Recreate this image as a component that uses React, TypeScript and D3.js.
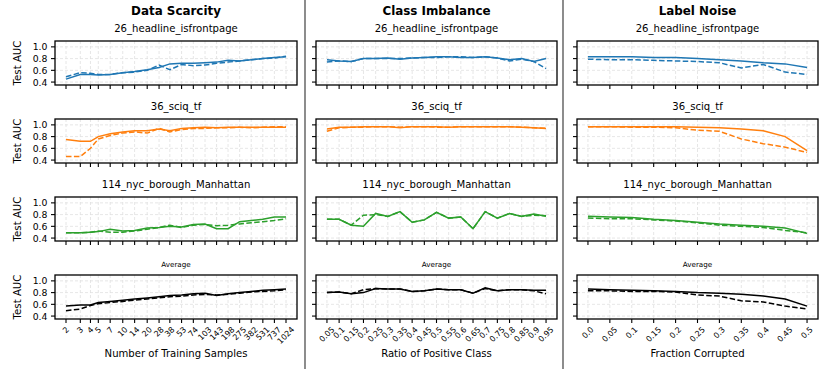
import React from 'react';
import * as d3 from 'd3';

const W = 830;
const H = 369;
const FONT = "'DejaVu Sans', sans-serif";

// x values / tick labels
const sampleSizes = [2, 3, 4, 5, 7, 10, 14, 20, 28, 38, 53, 74, 103, 143, 198, 275, 382, 531, 737, 1024];
const ratioLabels = ['0.05', '0.1', '0.15', '0.2', '0.25', '0.3', '0.35', '0.4', '0.45', '0.5',
  '0.55', '0.6', '0.65', '0.7', '0.75', '0.8', '0.85', '0.9', '0.95'];
const fractionLabels = ['0.0', '0.05', '0.1', '0.15', '0.2', '0.25', '0.3', '0.35', '0.4', '0.45', '0.5'];
const ratios = ratioLabels.map(Number);
const fractions = fractionLabels.map(Number);
const yTicks = [0.4, 0.6, 0.8, 1.0];

const columnTitles = ['Data Scarcity', 'Class Imbalance', 'Label Noise'];
const columnXLabels = ['Number of Training Samples', 'Ratio of Positive Class', 'Fraction Corrupted'];
const rowTitles = ['26_headline_isfrontpage', '36_sciq_tf', '114_nyc_borough_Manhattan', 'Average'];
const rowColors = ['#1f77b4', '#ff7f0e', '#2ca02c', '#000000'];

// Data Scarcity (solid / dashed)
const scarHeadlineSolid = [0.45, 0.53, 0.53, 0.52, 0.53, 0.56, 0.58, 0.61, 0.65, 0.71, 0.72, 0.72, 0.73, 0.74, 0.77, 0.76, 0.78, 0.80, 0.82, 0.83];
const scarHeadlineDashed = [0.49, 0.56, 0.55, 0.53, 0.53, 0.56, 0.57, 0.60, 0.69, 0.61, 0.70, 0.68, 0.69, 0.72, 0.74, 0.76, 0.78, 0.80, 0.81, 0.84];
const scarSciqSolid = [0.75, 0.72, 0.72, 0.80, 0.85, 0.88, 0.90, 0.90, 0.93, 0.90, 0.94, 0.95, 0.96, 0.95, 0.96, 0.96, 0.96, 0.96, 0.96, 0.96];
const scarSciqDashed = [0.46, 0.46, 0.60, 0.76, 0.82, 0.86, 0.88, 0.86, 0.94, 0.88, 0.92, 0.94, 0.94, 0.95, 0.95, 0.96, 0.95, 0.96, 0.97, 0.97];
const scarNycSolid = [0.49, 0.49, 0.50, 0.51, 0.55, 0.52, 0.53, 0.57, 0.58, 0.60, 0.59, 0.63, 0.64, 0.56, 0.56, 0.68, 0.70, 0.72, 0.76, 0.76];
const scarNycDashed = [0.49, 0.49, 0.50, 0.52, 0.50, 0.50, 0.52, 0.55, 0.58, 0.62, 0.58, 0.62, 0.63, 0.61, 0.62, 0.64, 0.66, 0.68, 0.70, 0.73];
const scarAvgSolid = [0.57, 0.59, 0.59, 0.63, 0.65, 0.67, 0.69, 0.71, 0.73, 0.75, 0.76, 0.78, 0.79, 0.75, 0.78, 0.80, 0.82, 0.84, 0.85, 0.86];
const scarAvgDashed = [0.49, 0.52, 0.58, 0.61, 0.63, 0.65, 0.67, 0.69, 0.71, 0.73, 0.74, 0.76, 0.77, 0.76, 0.77, 0.79, 0.81, 0.82, 0.83, 0.85];

// Class Imbalance
const imbHeadlineSolid = [0.78, 0.76, 0.75, 0.80, 0.80, 0.81, 0.79, 0.81, 0.82, 0.83, 0.83, 0.82, 0.82, 0.83, 0.81, 0.78, 0.80, 0.75, 0.80];
const imbHeadlineDashed = [0.74, 0.76, 0.75, 0.80, 0.80, 0.80, 0.80, 0.81, 0.82, 0.82, 0.83, 0.83, 0.82, 0.83, 0.81, 0.76, 0.79, 0.75, 0.63];
const imbSciqSolid = [0.93, 0.96, 0.96, 0.97, 0.97, 0.97, 0.95, 0.97, 0.97, 0.97, 0.96, 0.97, 0.97, 0.97, 0.97, 0.97, 0.96, 0.95, 0.94];
const imbSciqDashed = [0.89, 0.95, 0.96, 0.96, 0.97, 0.97, 0.96, 0.97, 0.97, 0.96, 0.96, 0.97, 0.97, 0.97, 0.97, 0.97, 0.96, 0.95, 0.94];
const imbNycSolid = [0.72, 0.72, 0.62, 0.60, 0.82, 0.77, 0.85, 0.67, 0.71, 0.84, 0.74, 0.76, 0.56, 0.85, 0.74, 0.82, 0.77, 0.81, 0.77];
const imbNycDashed = [0.72, 0.72, 0.62, 0.79, 0.80, 0.77, 0.85, 0.67, 0.71, 0.84, 0.74, 0.76, 0.56, 0.85, 0.74, 0.82, 0.77, 0.79, 0.78];
const imbAvgSolid = [0.80, 0.81, 0.78, 0.80, 0.87, 0.86, 0.86, 0.82, 0.83, 0.86, 0.85, 0.85, 0.79, 0.88, 0.83, 0.85, 0.85, 0.84, 0.84];
const imbAvgDashed = [0.80, 0.81, 0.78, 0.85, 0.87, 0.86, 0.86, 0.82, 0.83, 0.86, 0.85, 0.85, 0.79, 0.87, 0.83, 0.85, 0.85, 0.83, 0.78];

// Label Noise
const noiseHeadlineSolid = [0.83, 0.83, 0.83, 0.82, 0.82, 0.80, 0.78, 0.76, 0.73, 0.71, 0.65];
const noiseHeadlineDashed = [0.79, 0.78, 0.78, 0.77, 0.76, 0.75, 0.73, 0.64, 0.70, 0.57, 0.53];
const noiseSciqSolid = [0.97, 0.97, 0.97, 0.97, 0.97, 0.96, 0.95, 0.93, 0.90, 0.80, 0.56];
const noiseSciqDashed = [0.97, 0.97, 0.96, 0.96, 0.95, 0.91, 0.89, 0.76, 0.68, 0.62, 0.53];
const noiseNycSolid = [0.77, 0.76, 0.75, 0.72, 0.70, 0.67, 0.64, 0.62, 0.60, 0.57, 0.48];
const noiseNycDashed = [0.74, 0.73, 0.73, 0.71, 0.69, 0.66, 0.62, 0.60, 0.58, 0.53, 0.49];
const noiseAvgSolid = [0.86, 0.85, 0.84, 0.83, 0.82, 0.80, 0.79, 0.77, 0.74, 0.69, 0.57];
const noiseAvgDashed = [0.83, 0.83, 0.82, 0.82, 0.81, 0.76, 0.74, 0.66, 0.64, 0.57, 0.52];

const panels = [
  [[scarHeadlineSolid, scarHeadlineDashed], [scarSciqSolid, scarSciqDashed], [scarNycSolid, scarNycDashed], [scarAvgSolid, scarAvgDashed]],
  [[imbHeadlineSolid, imbHeadlineDashed], [imbSciqSolid, imbSciqDashed], [imbNycSolid, imbNycDashed], [imbAvgSolid, imbAvgDashed]],
  [[noiseHeadlineSolid, noiseHeadlineDashed], [noiseSciqSolid, noiseSciqDashed], [noiseNycSolid, noiseNycDashed], [noiseAvgSolid, noiseAvgDashed]],
];

const colBoxes = [[55, 297], [316, 557], [577, 818]];
const rowTops = [41, 119, 197, 275];
const boxH = 44;
const dividers = [305, 563];

function makeX(col: number) {
  const [x0, x1] = colBoxes[col];
  const pad = (x1 - x0) / 22;
  if (col === 0) return d3.scaleLog().base(2).domain([2, 1024]).range([x0 + pad, x1 - pad]);
  if (col === 1) return d3.scaleLinear().domain([0.05, 0.95]).range([x0 + pad, x1 - pad]);
  return d3.scaleLinear().domain([0, 0.5]).range([x0 + pad, x1 - pad]);
}

function xValues(col: number) {
  return col === 0 ? sampleSizes : col === 1 ? ratios : fractions;
}
function xLabels(col: number) {
  return col === 0 ? sampleSizes.map(String) : col === 1 ? ratioLabels : fractionLabels;
}

function textWidth(s: string, fs: number) {
  let w = 0;
  for (const c of s) w += c === '.' ? 0.318 : 0.636;
  return w * fs;
}

function Panel({ col, row }: { col: number; row: number }) {
  const [x0, x1] = colBoxes[col];
  const top = rowTops[row];
  const bottom = top + boxH;
  const x = makeX(col);
  const y = d3.scaleLinear().domain([0.35, 1.1]).range([bottom, top]);
  const xs = xValues(col);
  const line = d3.line<number>().x((_, i) => x(xs[i])).y(d => y(d));
  const [solid, dashed] = panels[col][row];
  const color = rowColors[row];
  const isAvg = row === 3;
  const labels = xLabels(col);
  const fsX = 8;

  return (
    <g>
      {/* grid */}
      {xs.map((v, i) => (
        <line key={'gx' + i} x1={x(v)} x2={x(v)} y1={top} y2={bottom} stroke="#e0e0e0" strokeWidth={0.8} strokeDasharray="3,2" />
      ))}
      {yTicks.map(t => (
        <line key={'gy' + t} x1={x0} x2={x1} y1={y(t)} y2={y(t)} stroke="#e0e0e0" strokeWidth={0.8} strokeDasharray="3,2" />
      ))}
      <path d={line(dashed) || ''} fill="none" stroke={color} strokeWidth={1.5} strokeDasharray="5.5,2.4" />
      <path d={line(solid) || ''} fill="none" stroke={color} strokeWidth={1.5} />
      <rect x={x0} y={top} width={x1 - x0} height={boxH} fill="none" stroke="#000" strokeWidth={1.3} />
      {/* ticks */}
      {xs.map((v, i) => (
        <line key={'tx' + i} x1={x(v)} x2={x(v)} y1={bottom} y2={bottom + 4} stroke="#000" strokeWidth={1.1} />
      ))}
      {yTicks.map(t => (
        <line key={'ty' + t} x1={x0 - 4} x2={x0} y1={y(t)} y2={y(t)} stroke="#000" strokeWidth={1.1} />
      ))}
      {col === 0 && yTicks.map(t => (
        <text key={'ly' + t} x={x0 - 7.5} y={y(t)} fontSize={9.3} textAnchor="end" dominantBaseline="central" fontFamily={FONT}>
          {t.toFixed(1)}
        </text>
      ))}
      {col === 0 && (
        <text transform={`translate(17,${top + boxH / 2}) rotate(-90)`} fontSize={10.2} textAnchor="middle" dominantBaseline="central" fontFamily={FONT}>
          Test AUC
        </text>
      )}
      <text x={(x0 + x1) / 2} y={top - (isAvg ? 11 : 12.5)} fontSize={isAvg ? 7.2 : 10.1} textAnchor="middle" dominantBaseline="central" fontFamily={FONT}>
        {rowTitles[row]}
      </text>
      {isAvg && xs.map((v, i) => {
        const w = textWidth(labels[i], fsX);
        const cy = bottom + 7 + (w + fsX * 0.8) / (2 * Math.SQRT2);
        return (
          <text key={'lx' + i} transform={`translate(${x(v)},${cy}) rotate(-45)`} fontSize={fsX} textAnchor="middle" dominantBaseline="central" fontFamily={FONT}>
            {labels[i]}
          </text>
        );
      })}
    </g>
  );
}

export default function App() {
  return (
    <svg width={W} height={H} style={{ position: 'absolute', left: 0, top: 0, background: '#fff' }}>
      <rect width={W} height={H} fill="#fff" />
      {dividers.map(d => (
        <line key={d} x1={d} x2={d} y1={0} y2={H} stroke="#808080" strokeWidth={1.8} />
      ))}
      {columnTitles.map((t, c) => (
        <text key={t} x={(colBoxes[c][0] + colBoxes[c][1]) / 2} y={11} fontSize={11.9} fontWeight="bold" textAnchor="middle" dominantBaseline="central" fontFamily={FONT}>
          {t}
        </text>
      ))}
      {columnXLabels.map((t, c) => (
        <text key={t} x={(colBoxes[c][0] + colBoxes[c][1]) / 2} y={353} fontSize={10.1} textAnchor="middle" dominantBaseline="central" fontFamily={FONT}>
          {t}
        </text>
      ))}
      {[0, 1, 2].map(c => [0, 1, 2, 3].map(r => <Panel key={c + '-' + r} col={c} row={r} />))}
    </svg>
  );
}
